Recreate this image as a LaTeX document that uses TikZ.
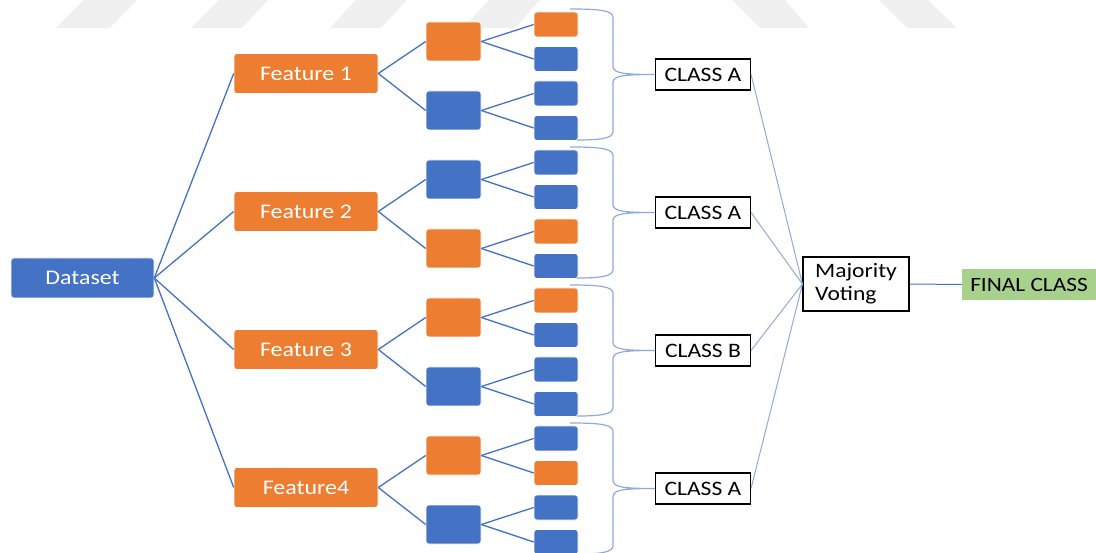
\documentclass[tikz,border=0pt]{standalone}
\usepackage{fontspec}
\setmainfont{Carlito}[FakeStretch=1.15]
\definecolor{ored}{HTML}{ED7D31}
\definecolor{oblue}{HTML}{4472C4}
\definecolor{ogreen}{HTML}{A9D18E}
\definecolor{lblue}{HTML}{8FAADC}
\definecolor{wm}{HTML}{F0F0F0}
\tikzset{
  boxbase/.style={rectangle, rounded corners=3pt, draw=white, line width=0.6pt, inner sep=0pt, text=white, font=\fontsize{20.8}{22}\selectfont},
  bigbox/.style={boxbase, minimum width=144pt, minimum height=40pt},
  midbox/.style={boxbase, minimum width=55pt, minimum height=39pt},
  leafbox/.style={boxbase, minimum width=44pt, minimum height=25pt},
  classbox/.style={rectangle, draw=black, line width=1.1pt, fill=white, inner sep=0pt, minimum width=95pt, minimum height=31pt, font=\fontsize{20.5}{22}\selectfont},
  feat/.style={draw=oblue, line width=1.3pt},
  vote/.style={draw=lblue, line width=1pt},
  bracel/.style={draw=lblue, line width=1.2pt},
  wmark/.style={fill=wm, draw=none}
}
\begin{document}
\begin{tikzpicture}[x=1pt, y=-1pt]
\useasboundingbox (0,0) rectangle (1096,553);
% watermark
\fill[wmark] (56,28)--(110,28)--(137,0)--(84,0)--cycle;
\fill[wmark] (191,28)--(242,28)--(268,0)--(219,0)--cycle;
\fill[wmark] (330,28)--(381,28)--(407,0)--(356,0)--cycle;
\fill[wmark] (463,28)--(515,28)--(540,0)--(489,0)--cycle;
\fill[wmark] (732,0)--(785,0)--(809,28)--(760,28)--cycle;
\fill[wmark] (879,0)--(928,0)--(957,28)--(907,28)--cycle;

\node[bigbox, fill=oblue, minimum width=143pt] (ds) at (82.5,278) {Dataset};
\node[rectangle, draw=black, line width=1.1pt, inner sep=0pt, minimum width=106pt, minimum height=54pt, align=left, font=\fontsize{20.5}{23}\selectfont] (mv) at (856,284) {Majority\\Voting};
\node[rectangle, fill=ogreen, inner sep=0pt, minimum width=134pt, minimum height=31pt, font=\fontsize{20.3}{22}\selectfont] (fc) at (1029,284.5) {FINAL CLASS};

\foreach \g/\ma/\mb/\la/\lb/\lc/\ld/\lab/\cl in {
  1/ored/oblue/ored/oblue/oblue/oblue/Feature 1/CLASS A,
  2/oblue/ored/oblue/oblue/ored/oblue/Feature 2/CLASS A,
  3/ored/oblue/ored/oblue/oblue/oblue/Feature 3/CLASS B,
  4/ored/oblue/oblue/ored/oblue/oblue/Feature4/CLASS A}{
  \pgfmathsetmacro{\yc}{74.5+(\g-1)*138}
  \node[bigbox, fill=ored] (f\g) at (306,\yc-1) {\lab};
  \node[midbox, fill=\ma] (m\g-1) at (453.5,\yc-33) {};
  \node[midbox, fill=\mb] (m\g-2) at (453.5,\yc+36) {};
  \node[leafbox, fill=\la] (l\g-1) at (556,\yc-50) {};
  \node[leafbox, fill=\lb] (l\g-2) at (556,\yc-15.5) {};
  \node[leafbox, fill=\lc] (l\g-3) at (556,\yc+19) {};
  \node[leafbox, fill=\ld] (l\g-4) at (556,\yc+53.5) {};
  \node[classbox] (c\g) at (703,\yc) {\cl};
  \coordinate (bt\g) at (570,\yc-65.5);
  \coordinate (bb\g) at (577,\yc+65.5);
  \draw[feat] (ds.east) -- (f\g.west);
  \draw[feat] (f\g.east) -- (m\g-1.west);
  \draw[feat] (f\g.east) -- (m\g-2.west);
  \draw[feat] (m\g-1.east) -- (l\g-1.west);
  \draw[feat] (m\g-1.east) -- (l\g-2.west);
  \draw[feat] (m\g-2.east) -- (l\g-3.west);
  \draw[feat] (m\g-2.east) -- (l\g-4.west);
  \draw[bracel] (bt\g) .. controls (600,\yc-65.5) and (613,\yc-64) .. (613,\yc-57)
     -- (613,\yc-8) .. controls (613,\yc-1) and (625,\yc) .. (c\g.west)
     .. controls (625,\yc) and (613,\yc+1) .. (613,\yc+8)
     -- (613,\yc+57) .. controls (613,\yc+64) and (600,\yc+65.5) .. (bb\g);
  \draw[vote] (c\g.east) -- (mv.west);
}
\draw[feat, line width=1pt] (mv.east) -- (fc.west);
\end{tikzpicture}
\end{document}
